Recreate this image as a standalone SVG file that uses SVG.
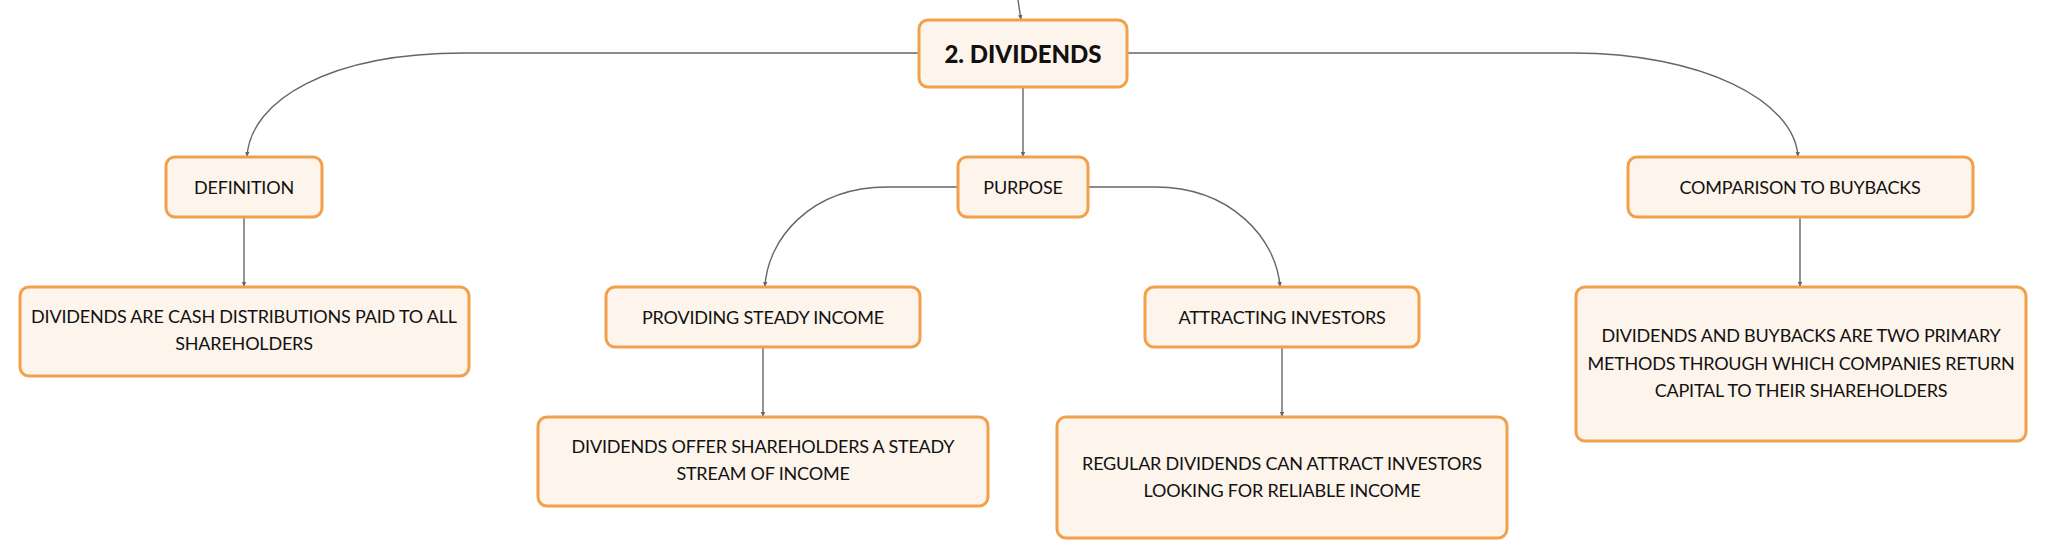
<svg xmlns="http://www.w3.org/2000/svg" width="2046" height="559" viewBox="0 0 2046 559">
<style>
.box{fill:#FDF4EC;stroke:#F2A04C;stroke-width:3}
.t{font-family:Lato,"Noto Sans","DejaVu Sans",sans-serif;font-size:18px;letter-spacing:-0.2px;fill:#111;text-anchor:middle;dominant-baseline:central}
.main{font-family:Lato,"Noto Sans","DejaVu Sans",sans-serif;font-size:24px;font-weight:900;fill:#111;text-anchor:middle;dominant-baseline:central}
.c{fill:none;stroke:#666;stroke-width:1.4;marker-end:url(#ah)}
</style>
<defs>
<marker id="ah" markerWidth="6" markerHeight="6" refX="5" refY="3" orient="auto" markerUnits="userSpaceOnUse">
<path d="M0,0.8 L5,3 L0,5.2 Z" fill="#666"/>
</marker>
</defs>
<rect width="2046" height="559" fill="#fff"/>
<g id="connectors">
<path class="c" d="M1018,0 L1021,20"/>
<path class="c" d="M919,53 H464 C330,53 250,100 247,157"/>
<path class="c" d="M1127,53 H1573 C1700,53 1795,100 1798,157"/>
<path class="c" d="M1023,87 V157"/>
<path class="c" d="M244,217 V287"/>
<path class="c" d="M958,187 H887 C810,187 767,240 765,287"/>
<path class="c" d="M1088,187 H1155 C1232,187 1277,240 1280,287"/>
<path class="c" d="M763,347 V417"/>
<path class="c" d="M1282,347 V417"/>
<path class="c" d="M1800,217 V287"/>
</g>
<g id="n-main">
<rect class="box" x="919" y="20" width="208" height="67" rx="9"/>
<text class="main" x="1023" y="53">2. DIVIDENDS</text>
</g>
<g id="n-definition">
<rect class="box" x="166" y="157" width="156" height="60" rx="9"/>
<text class="t" x="244" y="187">DEFINITION</text>
</g>
<g id="n-definition-text">
<rect class="box" x="20" y="287" width="449" height="89" rx="9"/>
<text class="t" x="244" y="316">DIVIDENDS ARE CASH DISTRIBUTIONS PAID TO ALL</text>
<text class="t" x="244" y="343">SHAREHOLDERS</text>
</g>
<g id="n-purpose">
<rect class="box" x="958" y="157" width="130" height="60" rx="9"/>
<text class="t" x="1023" y="187">PURPOSE</text>
</g>
<g id="n-steady">
<rect class="box" x="606" y="287" width="314" height="60" rx="9"/>
<text class="t" x="763" y="317">PROVIDING STEADY INCOME</text>
</g>
<g id="n-steady-text">
<rect class="box" x="538" y="417" width="450" height="89" rx="9"/>
<text class="t" x="763" y="446">DIVIDENDS OFFER SHAREHOLDERS A STEADY</text>
<text class="t" x="763" y="473">STREAM OF INCOME</text>
</g>
<g id="n-attract">
<rect class="box" x="1145" y="287" width="274" height="60" rx="9"/>
<text class="t" x="1282" y="317">ATTRACTING INVESTORS</text>
</g>
<g id="n-attract-text">
<rect class="box" x="1057" y="417" width="450" height="121" rx="9"/>
<text class="t" x="1282" y="463">REGULAR DIVIDENDS CAN ATTRACT INVESTORS</text>
<text class="t" x="1282" y="490">LOOKING FOR RELIABLE INCOME</text>
</g>
<g id="n-buybacks">
<rect class="box" x="1628" y="157" width="345" height="60" rx="9"/>
<text class="t" x="1800" y="187">COMPARISON TO BUYBACKS</text>
</g>
<g id="n-buybacks-text">
<rect class="box" x="1576" y="287" width="450" height="154" rx="9"/>
<text class="t" x="1801" y="335">DIVIDENDS AND BUYBACKS ARE TWO PRIMARY</text>
<text class="t" x="1801" y="363">METHODS THROUGH WHICH COMPANIES RETURN</text>
<text class="t" x="1801" y="390">CAPITAL TO THEIR SHAREHOLDERS</text>
</g>
</svg>
